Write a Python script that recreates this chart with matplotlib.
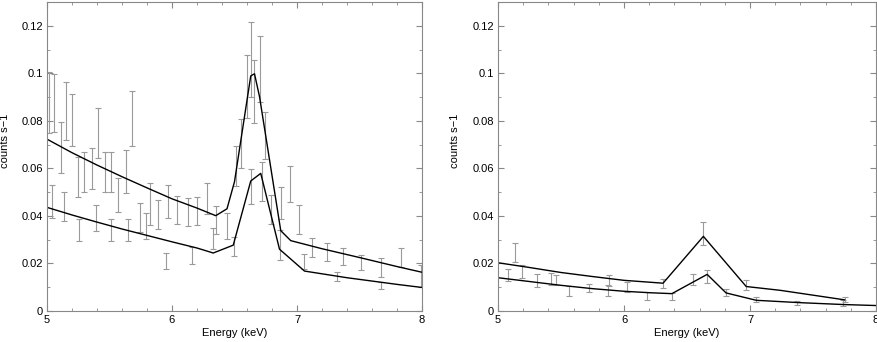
import matplotlib
matplotlib.use("Agg")
from matplotlib import pyplot as plt
from matplotlib.ticker import MultipleLocator, FormatStrFormatter

plt.rcParams['font.family'] = ['Liberation Sans', 'DejaVu Sans']

# left panel: data points (energy, counts, half error)
left_E = [5.02, 5.04, 5.06, 5.11, 5.14, 5.15, 5.20, 5.25, 5.26, 5.30, 5.36, 5.39,
          5.41, 5.46, 5.51, 5.51, 5.57, 5.63, 5.65, 5.68, 5.74, 5.79, 5.82, 5.89,
          5.95, 5.97, 6.04, 6.13, 6.16, 6.20, 6.28, 6.33, 6.35, 6.44, 6.50, 6.51,
          6.55, 6.60, 6.63, 6.63, 6.66, 6.70, 6.72, 6.74, 6.79, 6.86, 6.87, 6.94,
          7.02, 7.06, 7.12, 7.24, 7.32, 7.37, 7.51, 7.67, 7.67, 7.83, 7.99]
left_y = [0.0876, 0.0462, 0.0873, 0.0688, 0.0440, 0.0842, 0.0804, 0.0564, 0.0339, 0.0586, 0.0599, 0.0392,
          0.0748, 0.0586, 0.0586, 0.0342, 0.0489, 0.0588, 0.0342, 0.0810, 0.0393, 0.0358, 0.0449, 0.0408,
          0.0210, 0.0460, 0.0426, 0.0417, 0.0234, 0.0420, 0.0474, 0.0306, 0.0384, 0.0358, 0.0270, 0.0611,
          0.0704, 0.0945, 0.1058, 0.0523, 0.0922, 0.1019, 0.0544, 0.0738, 0.0429, 0.0277, 0.0455, 0.0535,
          0.0385, 0.0208, 0.0267, 0.0250, 0.0145, 0.0229, 0.0203, 0.0108, 0.0182, 0.0224, 0.0149]
left_err = [0.0128, 0.0069, 0.0122, 0.0106, 0.0062, 0.0122, 0.0110, 0.0086, 0.0046, 0.0085, 0.0087, 0.0056,
            0.0106, 0.0085, 0.0085, 0.0047, 0.0072, 0.0090, 0.0047, 0.0117, 0.0060, 0.0053, 0.0088, 0.0061,
            0.0032, 0.0070, 0.0059, 0.0059, 0.0035, 0.0060, 0.0064, 0.0044, 0.0058, 0.0053, 0.0040, 0.0085,
            0.0104, 0.0134, 0.0157, 0.0073, 0.0132, 0.0140, 0.0081, 0.0098, 0.0061, 0.0064, 0.0066, 0.0076,
            0.0059, 0.0030, 0.0040, 0.0038, 0.0020, 0.0034, 0.0032, 0.0014, 0.0039, 0.0039, 0.0046]

# left panel: model curves
left_mod1_E = [5.0, 5.2, 5.4, 5.6, 5.8, 6.0, 6.2, 6.35, 6.44, 6.50, 6.63, 6.66, 6.70,
               6.87, 6.95, 7.2, 7.5, 7.8, 8.0]
left_mod1_y = [0.0723, 0.0666, 0.0614, 0.0565, 0.0518, 0.0472, 0.0433, 0.0401, 0.0430, 0.0544,
               0.0989, 0.0998, 0.0902, 0.0338, 0.0296, 0.0262, 0.0225, 0.0187, 0.0163]
left_mod2_E = [5.0, 5.2, 5.4, 5.6, 5.8, 6.0, 6.2, 6.33, 6.49, 6.63, 6.71, 6.86, 7.06,
               7.4, 7.8, 8.0]
left_mod2_y = [0.0436, 0.0404, 0.0374, 0.0345, 0.0318, 0.0291, 0.0265, 0.0244, 0.0277, 0.0547,
               0.0579, 0.0260, 0.0168, 0.0140, 0.0112, 0.0099]

# right panel: data points
right_E = [5.08, 5.135, 5.19, 5.31, 5.42, 5.46, 5.56, 5.72, 5.87, 5.88, 6.02, 6.18,
           6.31, 6.38, 6.55, 6.63, 6.66, 6.81, 6.97, 7.05, 7.37, 7.74, 7.75]
right_y = [0.0152, 0.0245, 0.0166, 0.0128, 0.0136, 0.0129, 0.0085, 0.0097, 0.0086, 0.0130, 0.0102, 0.0065,
           0.0117, 0.0061, 0.0134, 0.0327, 0.0145, 0.0078, 0.0108, 0.0048, 0.0034, 0.0032, 0.0047]
right_err = [0.0026, 0.0039, 0.0026, 0.0026, 0.0025, 0.0021, 0.0020, 0.0018, 0.0022, 0.0023, 0.0020, 0.0017,
             0.0019, 0.0014, 0.0023, 0.0048, 0.0026, 0.0013, 0.0021, 0.0011, 0.0008, 0.0013, 0.0010]

# right panel: model curves
right_mod1_E = [5.0, 5.25, 5.5, 5.75, 6.0, 6.31, 6.63, 6.97, 7.24, 7.75]
right_mod1_y = [0.0203, 0.0183, 0.0162, 0.0145, 0.0129, 0.0117, 0.0314, 0.0103, 0.0087, 0.0047]
right_mod2_E = [5.0, 5.25, 5.5, 5.75, 6.0, 6.2, 6.38, 6.66, 6.81, 7.05, 7.4, 7.75, 8.0]
right_mod2_y = [0.0140, 0.0124, 0.0108, 0.0094, 0.0083, 0.0077, 0.0073, 0.0154, 0.0076, 0.0045,
                0.0035, 0.0027, 0.0023]

fig = plt.figure(figsize=(8.77, 3.42), dpi=100)
ax1 = fig.add_axes([47/877, 31/342, 375/877, 309/342])
ax2 = fig.add_axes([498/877, 31/342, 378/877, 309/342])

panels = [
    (ax1, left_E, left_y, left_err, [(left_mod1_E, left_mod1_y), (left_mod2_E, left_mod2_y)], 10),
    (ax2, right_E, right_y, right_err, [(right_mod1_E, right_mod1_y), (right_mod2_E, right_mod2_y)], 460),
]

for ax, E, y, err, models, ylab_x in panels:
    ax.errorbar(E, y, yerr=err, fmt='none', ecolor='#9a9a9a', elinewidth=0.8,
                capsize=2.2, capthick=0.8)
    for mE, my in models:
        ax.plot(mE, my, color='black', lw=1.0)
    ax.set_xlim(5, 8)
    ax.set_ylim(0, 0.13)
    ax.xaxis.set_major_locator(MultipleLocator(1))
    ax.xaxis.set_minor_locator(MultipleLocator(0.2))
    ax.yaxis.set_major_locator(MultipleLocator(0.02))
    ax.yaxis.set_minor_locator(MultipleLocator(0.01))
    ax.yaxis.set_major_formatter(plt.FuncFormatter(lambda v, p: '0' if v == 0 else ('%g' % round(v, 2))))
    ax.tick_params(which='both', direction='in', top=True, right=True, color='#888888',
                   labelsize=8, pad=3)
    ax.tick_params(which='major', length=4)
    ax.tick_params(which='minor', length=2.2)
    for s in ax.spines.values():
        s.set_color('#888888')
        s.set_linewidth(0.8)
    ax.set_xlabel('Energy (keV)', fontsize=8, labelpad=2)
    ax.set_ylabel('counts s\u22121', fontsize=8)
    # place y label at a fixed pixel column
    x0 = ax.get_position().x0 * 877
    ax.yaxis.set_label_coords((ylab_x - x0) / ax.get_position().width / 877, 0.55)

fig.savefig('out.png', dpi=100)
